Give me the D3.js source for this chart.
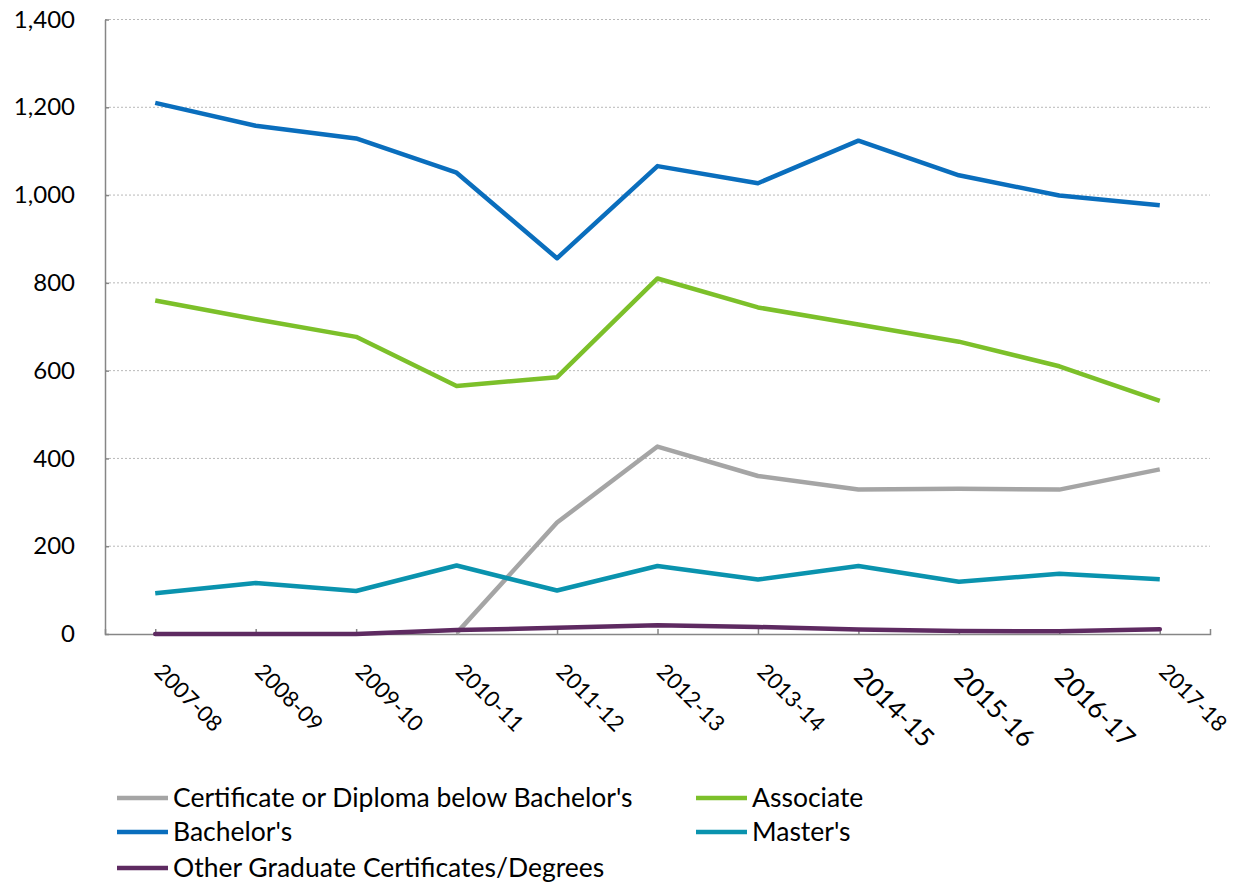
<!DOCTYPE html>
<html>
<head>
<meta charset="utf-8">
<script src="https://cdn.jsdelivr.net/npm/d3@7"></script>
<style>
  html, body { margin: 0; padding: 0; background: #fff; }
  svg { display: block; font-family: Lato, "Open Sans", sans-serif; }
</style>
</head>
<body>
<svg id="chart" width="1241" height="884"></svg>
<script>
const categories = ["2007-08","2008-09","2009-10","2010-11","2011-12","2012-13","2013-14","2014-15","2015-16","2016-17","2017-18"];
const certificate = [null, null, null, 2, 254, 427, 360, 329, 331, 329, 375];
const associate   = [760, 717, 677, 565, 585, 810, 744, 705, 666, 610, 531];
const bachelors   = [1210, 1158, 1129, 1051, 856, 1066, 1027, 1124, 1045, 999, 977];
const masters     = [93, 116, 98, 156, 99, 155, 124, 155, 119, 137, 125];
const otherGrad   = [0, 0, 0, 9, 14, 20, 16, 10, 7, 6, 11];
const yTicks = [0, 200, 400, 600, 800, 1000, 1200, 1400];
const seriesNames = ["Certificate or Diploma below Bachelor's", "Associate", "Bachelor's", "Master's", "Other Graduate Certificates/Degrees"];
const seriesColors = ["#a5a5a5", "#7cc02a", "#0a6ebd", "#0a93ae", "#5e2a61"];
const seriesValues = [certificate, associate, bachelors, masters, otherGrad];
const bigLabels = ["2014-15","2015-16","2016-17"];

const svg = d3.select("#chart");
const x0 = 105, x1 = 1210, yTop = 19.5, yBot = 634;

const x = d3.scalePoint().domain(categories).range([x0, x1]).padding(0.5);
const y = d3.scaleLinear().domain([0, 1400]).range([yBot, yTop]);

// gridlines
svg.append("g").selectAll("line")
  .data(yTicks.filter(d => d > 0))
  .join("line")
  .attr("x1", x0).attr("x2", x1)
  .attr("y1", d => y(d)).attr("y2", d => y(d))
  .attr("stroke", "#b8b8b8").attr("stroke-width", 1)
  .attr("stroke-dasharray", "2,2");

// y axis
const yAxis = svg.append("g").attr("transform", `translate(${x0},0)`)
  .call(d3.axisLeft(y).tickValues(yTicks).tickFormat(d3.format(",")).tickSizeInner(-4).tickSizeOuter(0).tickPadding(30));
yAxis.selectAll("path, line").attr("stroke", "#868686").attr("stroke-width", 1.5);
yAxis.selectAll("text").attr("font-size", 24).attr("fill", "#000").attr("font-family", "Lato, sans-serif");

// x axis
const xAxis = svg.append("g").attr("transform", `translate(0,${yBot})`)
  .call(d3.axisBottom(x).tickSizeInner(-5).tickSizeOuter(-5).tickFormat(""));
xAxis.selectAll("path, line").attr("stroke", "#868686").attr("stroke-width", 1.5);

// x labels rotated
svg.append("g").selectAll("text")
  .data(categories)
  .join("text")
  .attr("transform", d => {
    const big = bigLabels.includes(d);
    const px = x(d) + (big ? -6 : -2);
    const py = big ? 678 : 673;
    return `translate(${px},${py}) rotate(45)`;
  })
  .attr("font-size", d => bigLabels.includes(d) ? 26 : 22)
  .attr("fill", "#000")
  .text(d => d);

// lines
const line = d3.line()
  .defined(d => d.v !== null)
  .x(d => x(d.c))
  .y(d => y(d.v));

seriesValues.forEach((vals, i) => {
  svg.append("path")
    .datum(categories.map((c, j) => ({c, v: vals[j]})))
    .attr("fill", "none")
    .attr("stroke", seriesColors[i])
    .attr("stroke-width", 4.5)
    .attr("stroke-linejoin", "round")
    .attr("stroke-linecap", i === 4 ? "round" : "butt")
    .attr("d", line);
});

// legend
const legendPos = [
  {sx: 117, tx: 173, y: 798},
  {sx: 696, tx: 752, y: 798},
  {sx: 117, tx: 173, y: 832},
  {sx: 696, tx: 752, y: 832},
  {sx: 117, tx: 173, y: 868}
];
const lg = svg.append("g");
seriesNames.forEach((name, i) => {
  const p = legendPos[i];
  lg.append("line")
    .attr("x1", p.sx).attr("x2", p.sx + 51)
    .attr("y1", p.y).attr("y2", p.y)
    .attr("stroke", seriesColors[i]).attr("stroke-width", 4.5);
  lg.append("text")
    .attr("x", p.tx).attr("y", p.y)
    .attr("dy", "0.35em")
    .attr("font-size", 26.5)
    .attr("fill", "#000")
    .text(name);
});
</script>
</body>
</html>
